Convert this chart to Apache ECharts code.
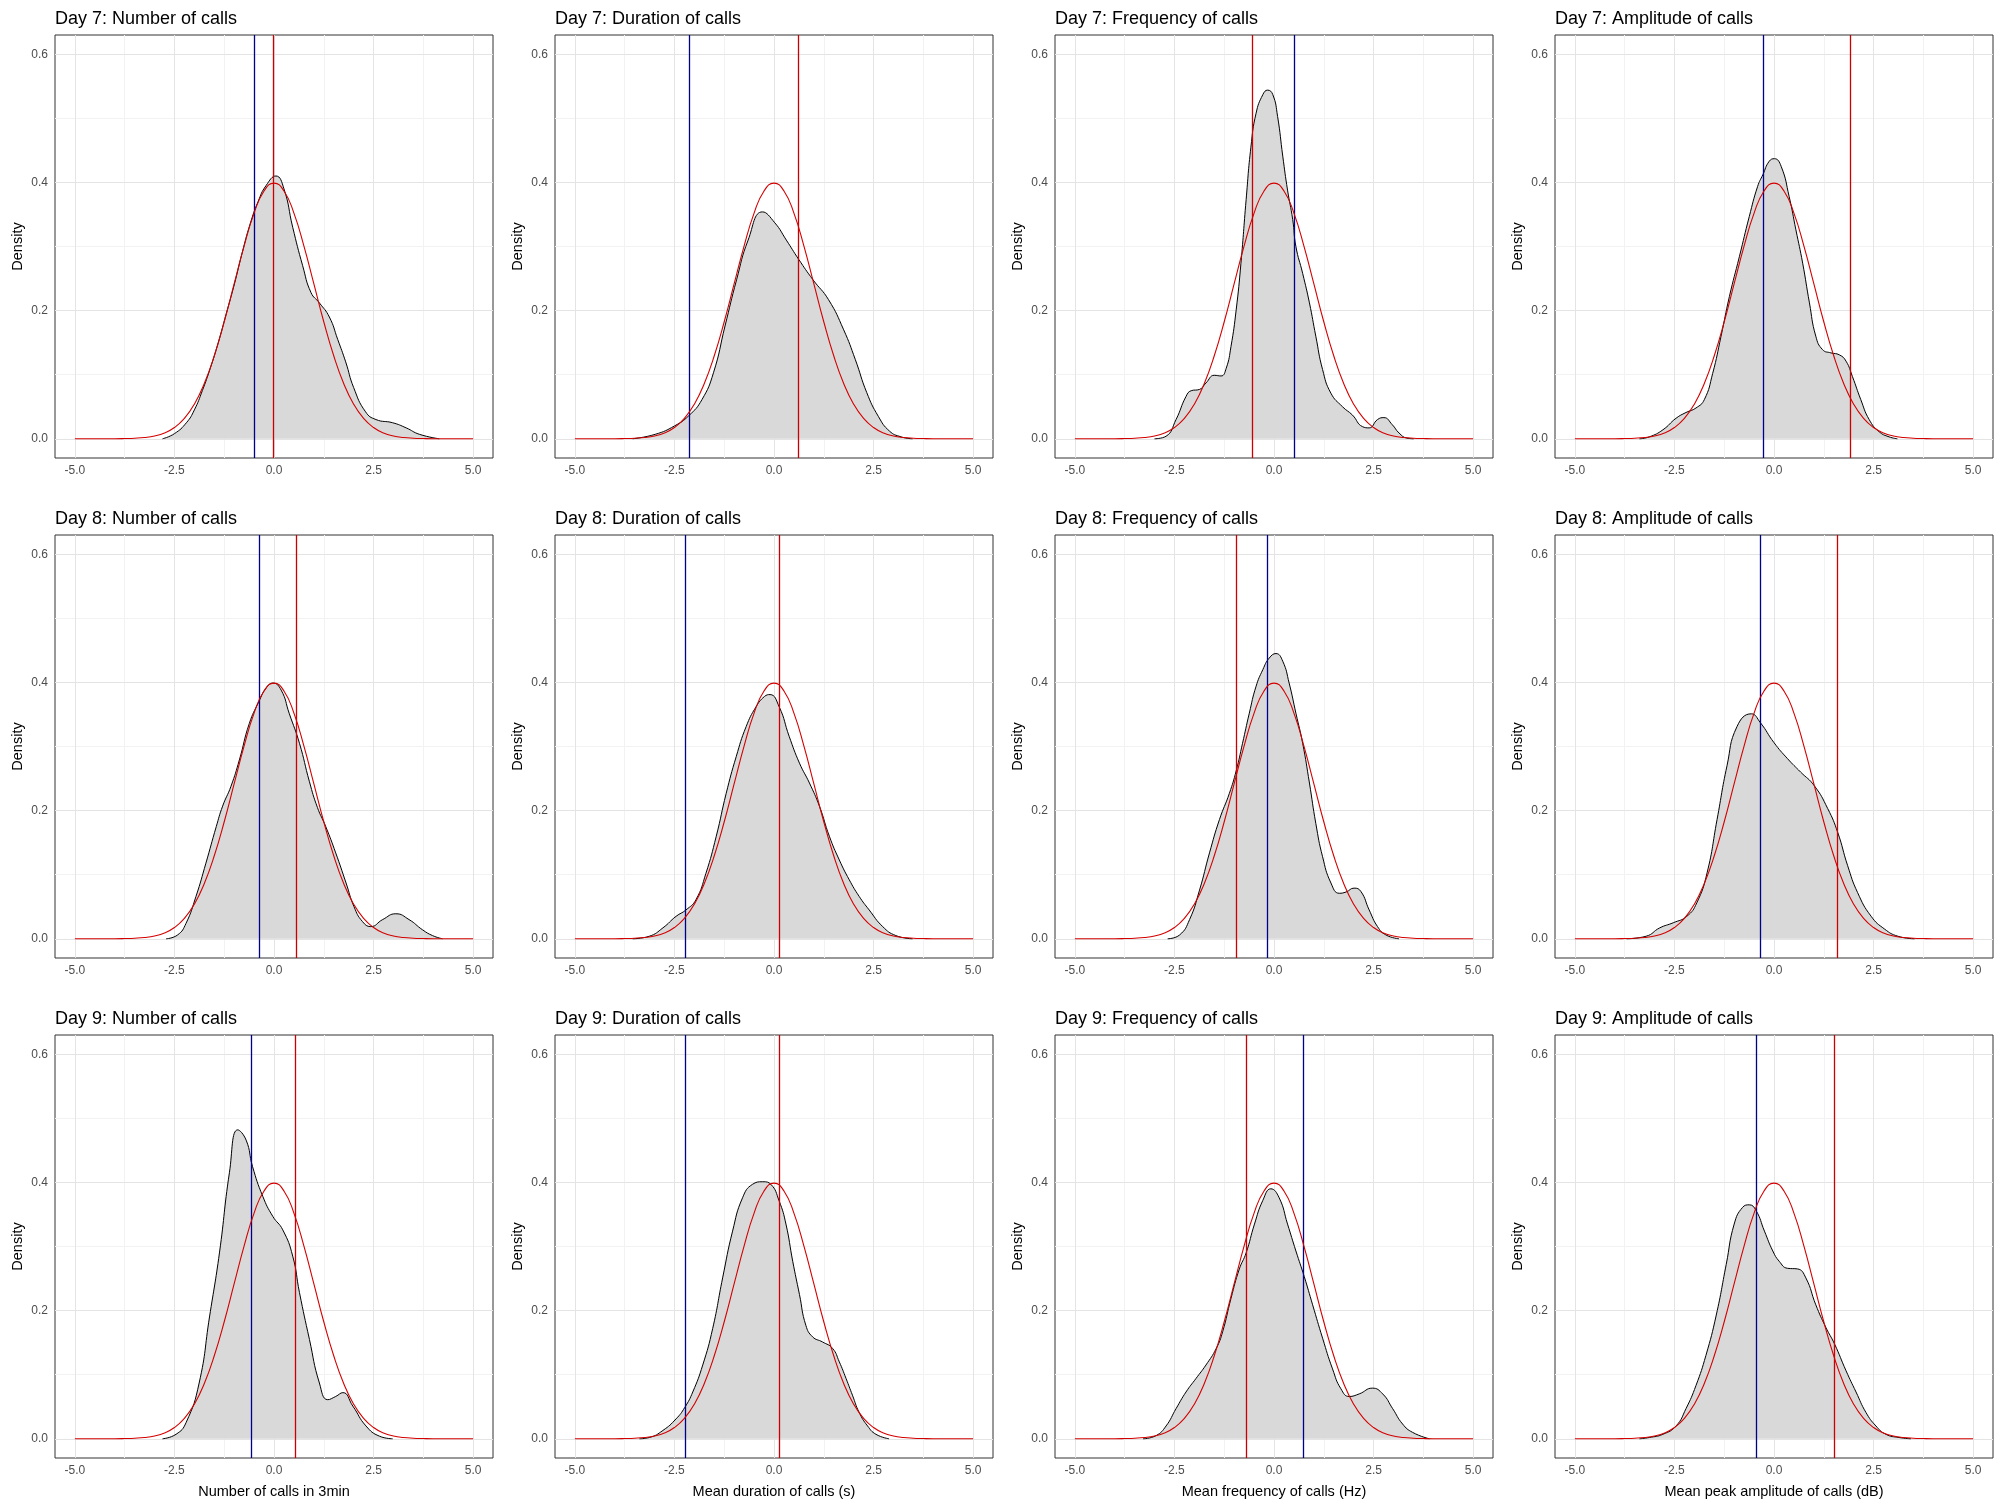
<!DOCTYPE html>
<html lang="en">
<head>
<meta charset="UTF-8">
<title>Density of call traits, days 7-9</title>
<style>
  html, body { margin: 0; padding: 0; background: #fff; }
  #main { width: 2005px; height: 1505px; }
</style>
<script src="https://cdn.jsdelivr.net/npm/echarts@6/dist/echarts.min.js"></script>
</head>
<body>
<div id="main"></div>
<script type="text/javascript">
// panel titles, row by row
var titles = [
  'Day 7: Number of calls', 'Day 7: Duration of calls', 'Day 7: Frequency of calls', 'Day 7: Amplitude of calls',
  'Day 8: Number of calls', 'Day 8: Duration of calls', 'Day 8: Frequency of calls', 'Day 8: Amplitude of calls',
  'Day 9: Number of calls', 'Day 9: Duration of calls', 'Day 9: Frequency of calls', 'Day 9: Amplitude of calls'
];
// x axis titles, bottom row only
var xTitles = ['Number of calls in 3min', 'Mean duration of calls (s)', 'Mean frequency of calls (Hz)', 'Mean peak amplitude of calls (dB)'];

// vertical lines, same order as titles
var blueLines = [-0.49, -2.13, 0.52, -0.28, -0.38, -2.24, -0.18, -0.34, -0.56, -2.24, 0.74, -0.45];
var redLines = [-0.03, 0.62, -0.55, 1.91, 0.56, 0.12, -0.95, 1.60, 0.54, 0.14, -0.70, 1.52];

// ticks
var xTicks = [-5, -2.5, 0, 2.5, 5];
var xMinor = [-3.75, -1.25, 1.25, 3.75];
var yTicks = [0, 0.2, 0.4, 0.6];
var yMinor = [0.1, 0.3, 0.5];

// red reference curve (same in every panel)
var normalCurve = [[-5, 0], [-4.5, 0], [-4, 0.0001], [-3.75, 0.0004], [-3.5, 0.0009], [-3.25, 0.002], [-3, 0.0044],
  [-2.75, 0.0091], [-2.5, 0.0175], [-2.25, 0.0317], [-2, 0.054], [-1.75, 0.0863], [-1.5, 0.1295], [-1.25, 0.1826],
  [-1, 0.242], [-0.75, 0.3011], [-0.5, 0.3521], [-0.25, 0.3867], [0, 0.3989], [0.25, 0.3867], [0.5, 0.3521],
  [0.75, 0.3011], [1, 0.242], [1.25, 0.1826], [1.5, 0.1295], [1.75, 0.0863], [2, 0.054], [2.25, 0.0317],
  [2.5, 0.0175], [2.75, 0.0091], [3, 0.0044], [3.25, 0.002], [3.5, 0.0009], [3.75, 0.0004], [4, 0.0001],
  [4.5, 0], [5, 0]];

// grey densities
var day7Number = [[-2.80, 0], [-2.5, 0.008], [-2.2, 0.025], [-2.0, 0.045], [-1.8, 0.075], [-1.6, 0.11], [-1.4, 0.15],
  [-1.2, 0.195], [-1.0, 0.24], [-0.8, 0.29], [-0.6, 0.335], [-0.4, 0.37], [-0.2, 0.395], [0.05, 0.41], [0.25, 0.39],
  [0.47, 0.33], [0.72, 0.27], [0.93, 0.228], [1.14, 0.212], [1.39, 0.19], [1.6, 0.155], [1.8, 0.12], [2.0, 0.08],
  [2.3, 0.042], [2.56, 0.03], [2.98, 0.025], [3.32, 0.017], [3.65, 0.007], [4.15, 0]];
var day7Duration = [[-3.55, 0], [-2.98, 0.007], [-2.50, 0.02], [-2.14, 0.036], [-1.81, 0.061], [-1.52, 0.103],
  [-1.23, 0.176], [-0.94, 0.248], [-0.65, 0.31], [-0.29, 0.354], [0.02, 0.337], [0.31, 0.31], [0.62, 0.28],
  [0.98, 0.248], [1.37, 0.217], [1.75, 0.17], [2.04, 0.124], [2.33, 0.072], [2.62, 0.035], [2.90, 0.012],
  [3.19, 0.003], [3.48, 0]];
var day7Frequency = [[-3.0, 0], [-2.71, 0.004], [-2.46, 0.03], [-2.21, 0.066], [-2.08, 0.075], [-1.87, 0.077],
  [-1.71, 0.087], [-1.50, 0.099], [-1.33, 0.098], [-1.20, 0.11], [-1.08, 0.144], [-0.95, 0.201], [-0.83, 0.274],
  [-0.70, 0.373], [-0.58, 0.455], [-0.45, 0.508], [-0.28, 0.537], [-0.16, 0.544], [-0.03, 0.537], [0.09, 0.503],
  [0.22, 0.441], [0.34, 0.388], [0.47, 0.342], [0.55, 0.30], [0.72, 0.258], [0.89, 0.212], [1.05, 0.16],
  [1.22, 0.108], [1.43, 0.071], [1.72, 0.05], [1.97, 0.037], [2.22, 0.019], [2.39, 0.017], [2.60, 0.03],
  [2.76, 0.033], [2.97, 0.022], [3.14, 0.009], [3.34, 0.001], [3.51, 0]];
var day7Amplitude = [[-3.38, 0], [-3.13, 0.003], [-2.79, 0.014], [-2.46, 0.032], [-2.21, 0.041], [-1.96, 0.048],
  [-1.75, 0.061], [-1.54, 0.102], [-1.33, 0.16], [-1.12, 0.222], [-0.87, 0.284], [-0.62, 0.347], [-0.41, 0.394],
  [-0.28, 0.412], [-0.12, 0.433], [0.01, 0.437], [0.18, 0.425], [0.38, 0.378], [0.55, 0.326], [0.72, 0.274],
  [0.89, 0.212], [1.05, 0.16], [1.22, 0.139], [1.43, 0.134], [1.64, 0.131], [1.81, 0.121], [1.97, 0.097],
  [2.18, 0.061], [2.39, 0.03], [2.64, 0.011], [2.89, 0.003], [3.10, 0]];
var day8Number = [[-2.71, 0], [-2.42, 0.006], [-2.21, 0.024], [-1.96, 0.066], [-1.71, 0.118], [-1.45, 0.175],
  [-1.29, 0.207], [-1.08, 0.238], [-0.87, 0.279], [-0.62, 0.336], [-0.38, 0.37], [-0.20, 0.391], [-0.03, 0.399],
  [0.18, 0.388], [0.38, 0.352], [0.64, 0.305], [0.89, 0.245], [1.09, 0.205], [1.30, 0.175], [1.55, 0.134],
  [1.81, 0.087], [2.01, 0.05], [2.22, 0.027], [2.43, 0.019], [2.73, 0.03], [3.06, 0.039], [3.39, 0.03],
  [3.73, 0.014], [3.98, 0.005], [4.23, 0]];
var day8Duration = [[-3.55, 0], [-3.13, 0.004], [-2.79, 0.017], [-2.46, 0.035], [-2.21, 0.045], [-1.96, 0.061],
  [-1.71, 0.102], [-1.45, 0.16], [-1.20, 0.227], [-0.95, 0.284], [-0.70, 0.331], [-0.45, 0.362], [-0.24, 0.378],
  [-0.10, 0.381], [0.13, 0.362], [0.38, 0.316], [0.64, 0.274], [0.89, 0.243], [1.14, 0.207], [1.39, 0.16],
  [1.64, 0.123], [1.89, 0.092], [2.14, 0.066], [2.39, 0.045], [2.73, 0.019], [3.06, 0.005], [3.48, 0]];
var day8Frequency = [[-2.67, 0], [-2.37, 0.006], [-2.12, 0.03], [-1.87, 0.076], [-1.62, 0.134], [-1.37, 0.186],
  [-1.12, 0.227], [-0.95, 0.262], [-0.79, 0.305], [-0.62, 0.352], [-0.45, 0.394], [-0.28, 0.42], [-0.12, 0.438],
  [0.05, 0.445], [0.22, 0.433], [0.38, 0.399], [0.55, 0.352], [0.72, 0.305], [0.89, 0.243], [1.05, 0.18],
  [1.22, 0.128], [1.43, 0.087], [1.64, 0.071], [1.81, 0.073], [2.01, 0.079], [2.18, 0.074], [2.39, 0.045],
  [2.60, 0.019], [2.81, 0.006], [3.14, 0]];
var day8Amplitude = [[-3.70, 0], [-3.21, 0.004], [-2.87, 0.017], [-2.53, 0.025], [-2.19, 0.035], [-1.94, 0.056],
  [-1.68, 0.103], [-1.43, 0.186], [-1.18, 0.27], [-0.93, 0.331], [-0.57, 0.351], [-0.34, 0.337], [0.0, 0.306],
  [0.34, 0.281], [0.67, 0.26], [1.01, 0.239], [1.35, 0.203], [1.60, 0.166], [1.85, 0.114], [2.10, 0.072],
  [2.44, 0.035], [2.78, 0.015], [3.11, 0.004], [3.53, 0]];
var day9Number = [[-2.80, 0], [-2.46, 0.007], [-2.21, 0.025], [-1.88, 0.087], [-1.62, 0.19], [-1.37, 0.29],
  [-1.12, 0.415], [-0.91, 0.482], [-0.70, 0.466], [-0.54, 0.425], [-0.28, 0.378], [-0.03, 0.347], [0.22, 0.326],
  [0.47, 0.285], [0.64, 0.228], [0.89, 0.155], [1.14, 0.087], [1.35, 0.061], [1.55, 0.066], [1.73, 0.072],
  [1.98, 0.051], [2.31, 0.02], [2.65, 0.004], [2.98, 0]];
var day9Duration = [[-3.38, 0], [-3.13, 0.002], [-2.79, 0.013], [-2.46, 0.031], [-2.24, 0.049], [-2.04, 0.073],
  [-1.79, 0.115], [-1.54, 0.172], [-1.29, 0.251], [-1.04, 0.324], [-0.79, 0.376], [-0.54, 0.397], [-0.28, 0.401],
  [-0.08, 0.397], [0.13, 0.371], [0.30, 0.335], [0.47, 0.277], [0.64, 0.225], [0.80, 0.177], [0.97, 0.159],
  [1.22, 0.151], [1.47, 0.141], [1.64, 0.12], [1.81, 0.094], [1.97, 0.068], [2.14, 0.041], [2.35, 0.02],
  [2.56, 0.007], [2.89, 0]];
var day9Frequency = [[-3.29, 0], [-2.96, 0.005], [-2.71, 0.02], [-2.46, 0.047], [-2.21, 0.073], [-1.96, 0.094],
  [-1.71, 0.115], [-1.45, 0.141], [-1.29, 0.167], [-1.08, 0.219], [-0.87, 0.265], [-0.70, 0.29], [-0.49, 0.335],
  [-0.28, 0.372], [-0.08, 0.39], [0.13, 0.376], [0.34, 0.335], [0.55, 0.293], [0.76, 0.253], [0.97, 0.209],
  [1.22, 0.157], [1.47, 0.109], [1.68, 0.078], [1.89, 0.066], [2.14, 0.07], [2.47, 0.079], [2.73, 0.07],
  [2.98, 0.047], [3.23, 0.023], [3.48, 0.01], [3.90, 0]];
var day9Amplitude = [[-3.38, 0], [-3.13, 0.002], [-2.79, 0.007], [-2.46, 0.02], [-2.21, 0.047], [-1.96, 0.083],
  [-1.71, 0.13], [-1.45, 0.193], [-1.20, 0.272], [-1.00, 0.335], [-0.79, 0.361], [-0.62, 0.365], [-0.45, 0.356],
  [-0.24, 0.324], [-0.03, 0.293], [0.13, 0.277], [0.34, 0.266], [0.59, 0.265], [0.80, 0.251], [1.05, 0.209],
  [1.30, 0.174], [1.52, 0.148], [1.81, 0.106], [2.06, 0.073], [2.31, 0.041], [2.56, 0.02], [2.81, 0.007],
  [3.14, 0.002], [3.44, 0]];

var densities = [
  day7Number, day7Duration, day7Frequency, day7Amplitude,
  day8Number, day8Duration, day8Frequency, day8Amplitude,
  day9Number, day9Duration, day9Frequency, day9Amplitude
];

var FONT = '"Liberation Sans", Arial, Helvetica, sans-serif';
function fmt(v) { return Number(v).toFixed(1); }

function buildOption() {
  var grids = [], xAxes = [], yAxes = [], series = [], titleList = [];

  for (var i = 0; i < 12; i++) {
    var col = i % 4, row = Math.floor(i / 4);
    var gLeft = 55 + 500 * col, gTop = 35 + 500 * row;

    grids.push({ left: gLeft, top: gTop, width: 438, height: 423, show: true,
      borderColor: '#333333', borderWidth: 1, backgroundColor: '#ffffff' });

    titleList.push({ text: titles[i], left: gLeft, top: gTop - 25, padding: 0,
      textStyle: { fontFamily: FONT, fontSize: 18, fontWeight: 'normal', color: '#000000' } });

    xAxes.push({ type: 'value', gridIndex: i, min: -5.5, max: 5.5,
      name: row === 2 ? xTitles[col] : '', nameLocation: 'middle', nameGap: 26,
      nameTextStyle: { fontFamily: FONT, fontSize: 14.5, color: '#000000' },
      axisLine: { show: false },
      axisTick: { show: true, length: 3, customValues: xTicks, lineStyle: { color: '#333333', width: 1 } },
      axisLabel: { customValues: xTicks, formatter: fmt, margin: 7, fontFamily: FONT, fontSize: 12, color: '#4D4D4D' },
      splitLine: { show: false } });

    yAxes.push({ type: 'value', gridIndex: i, min: -0.03, max: 0.63,
      name: 'Density', nameLocation: 'middle', nameGap: 30, nameRotate: 90,
      nameTextStyle: { fontFamily: FONT, fontSize: 14.5, color: '#000000' },
      axisLine: { show: false },
      axisTick: { show: true, length: 3, customValues: yTicks, lineStyle: { color: '#333333', width: 1 } },
      axisLabel: { customValues: yTicks, formatter: fmt, margin: 7, fontFamily: FONT, fontSize: 12, color: '#4D4D4D' },
      splitLine: { show: false } });

    // panel grid lines, kept under the fill
    var gl = [];
    xMinor.forEach(function (v) { gl.push({ xAxis: v, lineStyle: { color: '#F2F2F2', width: 1 } }); });
    yMinor.forEach(function (v) { gl.push({ yAxis: v, lineStyle: { color: '#F2F2F2', width: 1 } }); });
    xTicks.forEach(function (v) { gl.push({ xAxis: v, lineStyle: { color: '#E4E4E4', width: 1 } }); });
    yTicks.forEach(function (v) { gl.push({ yAxis: v, lineStyle: { color: '#E4E4E4', width: 1 } }); });
    series.push({ type: 'line', xAxisIndex: i, yAxisIndex: i, data: [], z: 1,
      markLine: { z: 1, silent: true, symbol: ['none', 'none'], label: { show: false },
        lineStyle: { color: '#E4E4E4', width: 1, type: 'solid' }, data: gl } });

    // observed density
    series.push({ type: 'line', xAxisIndex: i, yAxisIndex: i, data: densities[i], z: 2,
      showSymbol: false, smooth: 0.5,
      lineStyle: { color: '#000000', width: 1 }, areaStyle: { color: '#D9D9D9', opacity: 1 } });

    // blue and red vertical lines
    series.push({ type: 'line', xAxisIndex: i, yAxisIndex: i, data: [], z: 3,
      markLine: { z: 3, silent: true, symbol: ['none', 'none'], label: { show: false },
        lineStyle: { width: 1.3, type: 'solid' },
        data: [
          { xAxis: blueLines[i], lineStyle: { color: '#00008B', width: 1.3 } },
          { xAxis: redLines[i], lineStyle: { color: '#CC0000', width: 1.3 } }
        ] } });

    // normal curve
    series.push({ type: 'line', xAxisIndex: i, yAxisIndex: i, data: normalCurve, z: 4,
      showSymbol: false, smooth: 0.5, lineStyle: { color: '#D40000', width: 1.1 } });
  }

  return {
    animation: false,
    backgroundColor: '#ffffff',
    title: titleList,
    grid: grids,
    xAxis: xAxes,
    yAxis: yAxes,
    series: series
  };
}

var chart = echarts.init(document.getElementById('main'));
chart.setOption(buildOption());
</script>
</body>
</html>
